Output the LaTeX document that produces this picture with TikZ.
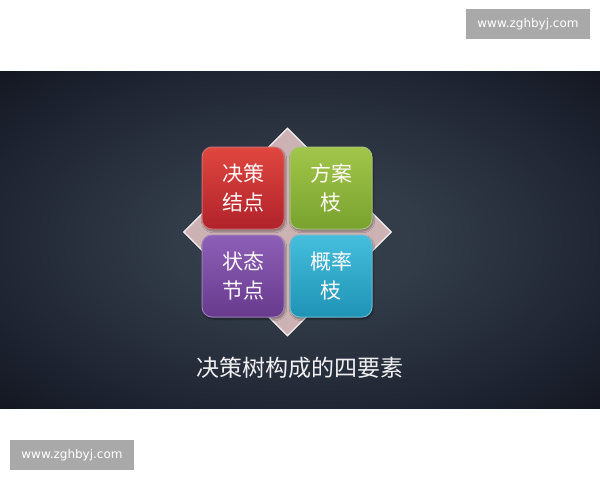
\documentclass[tikz,border=0pt]{standalone}
\usepackage{fontspec}
\usepackage{tikz}
\usetikzlibrary{positioning,shapes.geometric,shadows.blur}
\newfontfamily\cjk{Noto Sans CJK SC}
\newfontfamily\webfont{DejaVu Sans}
\definecolor{panelmid}{HTML}{36404D}
\definecolor{panelrim}{HTML}{1D2230}
\definecolor{paneledge}{HTML}{0C0E13}
\definecolor{kitegray}{HTML}{CDB2B3}
\definecolor{markgray}{HTML}{A9A9A9}
\definecolor{redtop}{HTML}{E0473F}\definecolor{redbot}{HTML}{B0222A}
\definecolor{greentop}{HTML}{A2C64A}\definecolor{greenbot}{HTML}{78A22E}
\definecolor{purpletop}{HTML}{8D5FB6}\definecolor{purplebot}{HTML}{673A8E}
\definecolor{bluetop}{HTML}{45BEDC}\definecolor{bluebot}{HTML}{1F93B6}
\pgfdeclareradialshading{panelglow}{\pgfpoint{0bp}{0bp}}{%
  color(0bp)=(panelmid); color(10bp)=(panelmid!85!panelrim);
  color(28bp)=(panelrim); color(42bp)=(paneledge); color(72bp)=(paneledge)}
\tikzset{
  tile/.style={minimum width=82pt, minimum height=82pt, rounded corners=10pt,
    draw=white!35!#1bot, line width=1pt, top color=#1top, bottom color=#1bot,
    blur shadow={shadow blur steps=6, shadow xshift=1pt, shadow yshift=-2pt},
    text=white!92!pink, font=\cjk\fontsize{21}{29}\selectfont, align=center},
  watermark/.style={fill=markgray, text=white, font=\webfont\fontsize{12}{14}\selectfont,
    minimum width=124pt, minimum height=30pt, inner sep=0pt}
}
\begin{document}
\begin{tikzpicture}[x=1pt,y=-1pt]
\useasboundingbox (0,0) rectangle (600,480);
\fill[white] (0,0) rectangle (600,480);
\shade[shading=panelglow] (0,71) rectangle (600,408);
%
\node (mark1) at (528,24) [watermark] {www.zghbyj.com};
\node (mark2) at (72,455) [watermark] {www.zghbyj.com};
%
\node (kite) at (287.5,232) [diamond, fill=kitegray, draw=white!80!kitegray,
  line width=1.2pt, minimum width=208pt, minimum height=208pt, inner sep=0pt] {};
%
\foreach \Name/\X/\Y/\Col/\Text in {%
        dec/243/188/red/{决策\\结点},
        alt/331/188/green/{方案\\枝},
        state/243/276/purple/{状态\\节点},
        prob/331/276/blue/{概率\\枝}%
    }
\node (\Name) at (\X,\Y) [tile=\Col] {\Text};
%
\node (title) at (300,368) [text=white!88!gray, font=\cjk\fontsize{23}{26}\selectfont] {决策树构成的四要素};
\end{tikzpicture}
\end{document}
